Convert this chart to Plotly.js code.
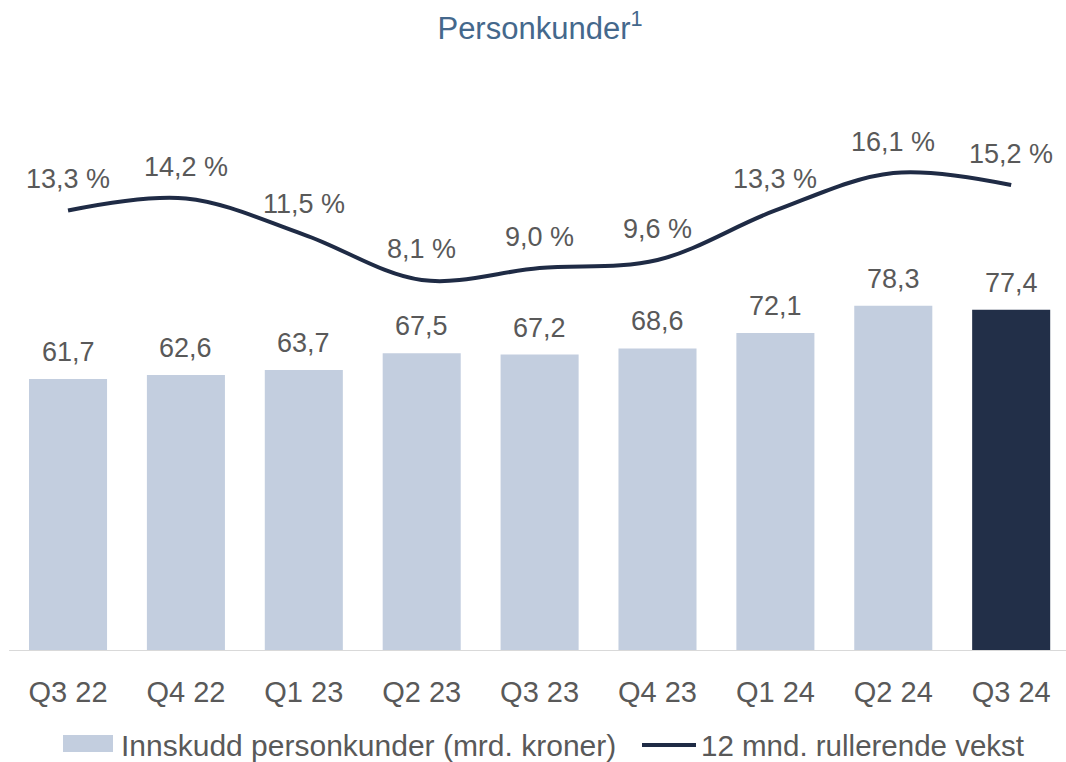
<!DOCTYPE html>
<html>
<head>
<meta charset="utf-8">
<script src="https://cdn.plot.ly/plotly-3.0.1.min.js"></script>
<style>html,body{margin:0;padding:0;background:#fff;}#chart{width:1066px;height:762px;}</style>
</head>
<body>
<div id="chart"></div>
<script>
const categories = ['Q3 22','Q4 22','Q1 23','Q2 23','Q3 23','Q4 23','Q1 24','Q2 24','Q3 24'];
const deposits = [61.7, 62.6, 63.7, 67.5, 67.2, 68.6, 72.1, 78.3, 77.4];
const growth = [13.3, 14.2, 11.5, 8.1, 9.0, 9.6, 13.3, 16.1, 15.2];
const seriesNames = ['Innskudd personkunder (mrd. kroner)', '12 mnd. rullerende vekst'];
const titleText = 'Personkunder<sup>1</sup>';

const barLight = '#c3cedf';
const barDark = '#222f48';
const lineColor = '#1f2b45';
const textColor = '#595959';
const FONT = 'Liberation Sans, Arial, sans-serif';
const FS = 27;
const LEG_Y = 745;

const barColors = deposits.map((v, i) => i === deposits.length - 1 ? barDark : barLight);
const fmt = v => v.toFixed(1).replace('.', ',');

const traces = [
  {
    type: 'bar', x: categories, y: deposits, name: seriesNames[0],
    marker: {color: barColors, line: {width: 0}}, yaxis: 'y', hoverinfo: 'none'
  },
  {
    type: 'scatter', mode: 'lines', x: categories, y: growth, name: seriesNames[1],
    line: {color: lineColor, width: 4, shape: 'spline', smoothing: 1}, yaxis: 'y2', hoverinfo: 'none'
  }
];

const annotations = [];
categories.forEach((c, i) => {
  annotations.push({x: c, y: deposits[i], xref: 'x', yref: 'y', text: fmt(deposits[i]),
    showarrow: false, yshift: 27, font: {family: FONT, size: FS, color: textColor}});
  annotations.push({x: c, y: growth[i], xref: 'x', yref: 'y2', text: fmt(growth[i]) + ' %',
    showarrow: false, yshift: 31, font: {family: FONT, size: FS, color: textColor}});
});
// legend text
annotations.push({xref: 'paper', yref: 'paper', x: 119/1066, y: (651-LEG_Y)/561, xanchor: 'left', yanchor: 'middle',
  text: seriesNames[0], showarrow: false, font: {family: FONT, size: 30, color: textColor}});
annotations.push({xref: 'paper', yref: 'paper', x: 699/1066, y: (651-LEG_Y)/561, xanchor: 'left', yanchor: 'middle',
  text: seriesNames[1], showarrow: false, font: {family: FONT, size: 29.5, color: textColor}});

const shapes = [
  {type: 'line', xref: 'x', yref: 'y', x0: -0.5, x1: 8.5, y0: 0, y1: 0, line: {color: '#d9d9d9', width: 2}, layer: 'above'},
  {type: 'rect', xref: 'paper', yref: 'paper', x0: 63/1066, x1: 113/1066, y0: (651-(LEG_Y-10))/561, y1: (651-(LEG_Y+7))/561,
    fillcolor: barLight, line: {width: 0}},
  {type: 'line', xref: 'paper', yref: 'paper', x0: 642/1066, x1: 696/1066, y0: (651-LEG_Y)/561, y1: (651-LEG_Y)/561,
    line: {color: lineColor, width: 4}}
];

const layout = {
  width: 1066, height: 762,
  margin: {l: 0, r: 0, t: 90, b: 111, pad: 0},
  paper_bgcolor: '#fff', plot_bgcolor: '#fff',
  separators: ', ',
  showlegend: false,
  bargap: 0.338,
  title: {text: titleText, x: 540/1066, xanchor: 'center', y: 1 - 28/762, yanchor: 'middle', yref: 'container',
    font: {family: FONT, size: 31, color: '#44688c'}},
  xaxis: {type: 'category', range: [-0.577, 8.465], showgrid: false, showline: false, zeroline: false,
    ticks: '', ticklabelstandoff: 21, tickfont: {family: FONT, size: 29, color: textColor}, fixedrange: true},
  yaxis: {range: [0, 127.2], visible: false, showgrid: false, zeroline: false, fixedrange: true},
  yaxis2: {range: [-19.64, 22.31], overlaying: 'y', side: 'right', visible: false, showgrid: false, zeroline: false, fixedrange: true},
  annotations: annotations,
  shapes: shapes
};

Plotly.newPlot('chart', traces, layout, {displayModeBar: false, staticPlot: true});
</script>
</body>
</html>
